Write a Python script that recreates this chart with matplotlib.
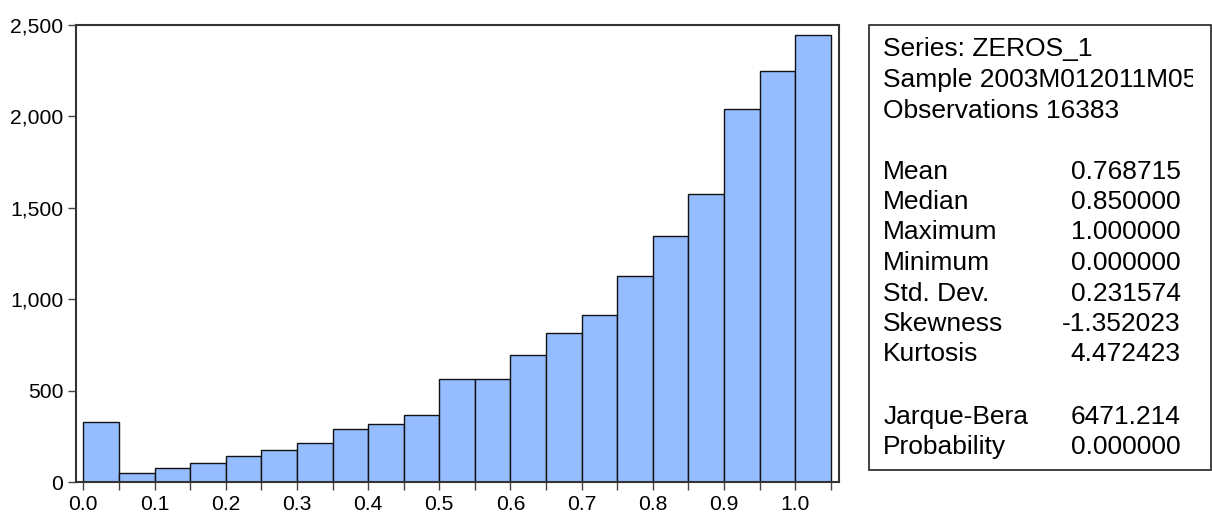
import matplotlib
matplotlib.use("Agg")
import matplotlib.pyplot as plt
from matplotlib.transforms import Bbox

plt.rcParams['font.family'] = ['Liberation Sans', 'DejaVu Sans']

# Histogram data (bin left edges, width 0.05)
bin_left = [0.00, 0.05, 0.10, 0.15, 0.20, 0.25, 0.30, 0.35, 0.40, 0.45, 0.50,
            0.55, 0.60, 0.65, 0.70, 0.75, 0.80, 0.85, 0.90, 0.95, 1.00]
counts = [330, 47, 77, 106, 140, 177, 211, 288, 315, 368, 565,
          565, 696, 816, 911, 1124, 1343, 1573, 2037, 2249, 2442]
bin_width = 0.05

x_ticks = [0.0, 0.1, 0.2, 0.3, 0.4, 0.5, 0.6, 0.7, 0.8, 0.9, 1.0]
y_ticks = [0, 500, 1000, 1500, 2000, 2500]

# Summary statistics panel
header_lines = ["Series: ZEROS_1", "Sample 2003M012011M05", "Observations 16383"]
stat_names = ["Mean", "Median", "Maximum", "Minimum", "Std. Dev.",
              "Skewness", "Kurtosis", "", "Jarque-Bera", "Probability"]
stat_values = ["0.768715", "0.850000", "1.000000", "0.000000", "0.231574",
               "-1.352023", "4.472423", "", "6471.214", "0.000000"]

W, H = 1212, 515
fig = plt.figure(figsize=(W / 100, H / 100), dpi=100)

ax = fig.add_axes([76 / W, 1 - 482 / H, 762.7 / W, 457.3 / H])
ax.bar(bin_left, counts, width=bin_width, align='edge',
       color='#95BCFE', edgecolor='#111111', linewidth=1.0)

ax.set_xlim(-0.0103, 1.061)
ax.set_ylim(0, 2500)
ax.set_xticks(x_ticks)
ax.set_xticklabels([f"{t:.1f}" for t in x_ticks])
ax.set_xticks([v + 0.05 for v in x_ticks], minor=True)
ax.set_yticks(y_ticks)
ax.set_yticklabels([f"{t:,}" for t in y_ticks])

ax.tick_params(axis='both', direction='out', length=6, width=1.0,
               color='#444444', labelsize=15.2, pad=3)
ax.tick_params(axis='x', which='minor', direction='out', length=6, width=1.0,
               color='#444444')
for s in ax.spines.values():
    s.set_color('#333333')
    s.set_linewidth(1.5)

# Stats box
box = plt.Rectangle((869.3 / W, 1 - 470 / H), (1211.3 - 869.3) / W, (470 - 25) / H,
                    transform=fig.transFigure, fill=False,
                    edgecolor='#222222', linewidth=1.2)
fig.patches.append(box)

fs = 19
clip = Bbox.from_extents(869, 0, 1193, H)
header_y = [49, 80, 111]
for txt, yy in zip(header_lines, header_y):
    t = fig.text(883.3 / W, 1 - yy / H, txt, fontsize=fs, va='center', ha='left')
    t.set_clip_box(clip)
    t.set_clip_on(True)

stat_y = [171.7, 201.7, 232.3, 263.3, 294, 324, 354, 385, 416.7, 446.7]
for name, val, yy in zip(stat_names, stat_values, stat_y):
    if not name:
        continue
    fig.text(883.3 / W, 1 - yy / H, name, fontsize=fs, va='center', ha='left')
    fig.text(1180.7 / W, 1 - yy / H, val, fontsize=fs, va='center', ha='right')

fig.savefig("out.png", dpi=100)
